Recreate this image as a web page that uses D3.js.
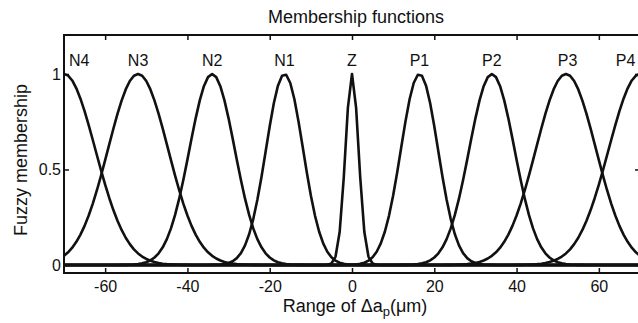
<!DOCTYPE html>
<html>
<head>
<meta charset="utf-8">
<script src="https://cdnjs.cloudflare.com/ajax/libs/d3/7.8.5/d3.min.js"></script>
<style>
	body { margin: 0; background: #fff; }
	svg { display: block; font-family: 'Liberation Sans', Arial, sans-serif; }
	.axis line { stroke: #111; stroke-width: 1.5; }
	.axis path { display: none; }
	.axis text { font-size: 16px; fill: #111; font-family: 'Liberation Sans', Arial, sans-serif; }
	.mf { fill: none; stroke: #111; stroke-width: 2.6; stroke-linejoin: round; }
</style>
</head>
<body>
<svg width="638" height="323"></svg>
<script>
// membership function names, centres and spreads (um)
var names = ['N4', 'N3', 'N2', 'N1', 'Z', 'P1', 'P2', 'P3', 'P4'];
var centers = [-70, -52, -34, -16.4, 0, 16.4, 34, 52, 70];
var spreads = [7.6, 7.3, 5.5, 4.5, 1.6, 4.5, 5.5, 7.3, 7.6];
// where each name sits along the x axis
var labelAt = [-66.3, -52, -34, -16.4, 0, 16.4, 34, 52.4, 66.5];

var xTicks = [-60, -40, -20, 0, 20, 40, 60];
var yTicks = [0, 0.5, 1];
var xDomain = [-70, 70];
var yDomain = [-0.042, 1.204];

var svg = d3.select('svg'),
	plotLeft = 64,
	plotRight = 640,
	plotTop = 35,
	plotBottom = 273;

var x = d3.scaleLinear().domain(xDomain).range([plotLeft, plotRight]);
var y = d3.scaleLinear().domain(yDomain).range([plotBottom, plotTop]);

svg.append('defs')
	.append('clipPath')
	.attr('id', 'plot')
	.append('rect')
	.attr('x', plotLeft)
	.attr('y', plotTop)
	.attr('width', plotRight - plotLeft)
	.attr('height', plotBottom - plotTop);

// sample grid of the universe of discourse
var grid = d3.range(xDomain[0], xDomain[1] + 0.5, 1);

var line = d3.line()
	.x(function (d) { return x(d[0]); })
	.y(function (d) { return y(d[1]); });

var curves = svg.append('g')
	.attr('clip-path', 'url(#plot)');

curves.selectAll('path')
	.data(centers)
	.enter().append('path')
	.classed('mf', true)
	.attr('d', function (c, i) {
		var s = spreads[i];
		return line(grid.map(function (v) {
			return [v, Math.exp(-(v - c) * (v - c) / (2 * s * s))];
		}));
	});

// zero line
svg.append('line')
	.attr('x1', plotLeft)
	.attr('x2', plotRight)
	.attr('y1', y(0))
	.attr('y2', y(0))
	.style('stroke', '#111')
	.style('stroke-width', 2);

// axes, ticks pointing inwards
svg.append('g')
	.classed('axis', true)
	.attr('transform', 'translate(0,' + plotBottom + ')')
	.call(d3.axisBottom(x).tickValues(xTicks).tickSize(-5).tickPadding(8)
		.tickFormat(function (d) { return d < 0 ? '-' + Math.abs(d) : d; }));

svg.append('g')
	.classed('axis', true)
	.attr('transform', 'translate(0,' + plotTop + ')')
	.call(d3.axisTop(x).tickValues(xTicks).tickSize(-5).tickFormat(''));

svg.append('g')
	.classed('axis', true)
	.attr('transform', 'translate(' + plotLeft + ',0)')
	.call(d3.axisLeft(y).tickValues(yTicks).tickSize(-5).tickPadding(3)
		.tickFormat(d3.format('')));

svg.append('g')
	.classed('axis', true)
	.attr('transform', 'translate(' + plotRight + ',0)')
	.call(d3.axisRight(y).tickValues(yTicks).tickSize(-5).tickFormat(''));

svg.append('rect')
	.attr('x', plotLeft)
	.attr('y', plotTop)
	.attr('width', plotRight - plotLeft)
	.attr('height', plotBottom - plotTop)
	.style('fill', 'none')
	.style('stroke', '#111')
	.style('stroke-width', 2);

// names of the fuzzy sets
svg.append('g')
	.selectAll('text')
	.data(names)
	.enter().append('text')
	.attr('x', function (d, i) { return x(labelAt[i]); })
	.attr('y', y(1) - 8)
	.attr('text-anchor', 'middle')
	.style('font-size', '16px')
	.style('fill', '#111')
	.text(function (d) { return d; });

svg.append('text')
	.attr('x', 356)
	.attr('y', 23)
	.attr('text-anchor', 'middle')
	.style('font-size', '18px')
	.style('fill', '#111')
	.text('Membership functions');

svg.append('text')
	.attr('transform', 'translate(27,160) rotate(-90)')
	.attr('text-anchor', 'middle')
	.style('font-size', '18px')
	.style('fill', '#111')
	.text('Fuzzy membership');

var xLabel = svg.append('text')
	.attr('x', 355)
	.attr('y', 312)
	.attr('text-anchor', 'middle')
	.style('font-size', '18px')
	.style('fill', '#111');

xLabel.append('tspan').text('Range of \u0394a');
xLabel.append('tspan')
	.attr('dy', 4)
	.style('font-size', '13px')
	.text('p');
xLabel.append('tspan')
	.attr('dy', -4)
	.text('(\u03bcm)');
</script>
</body>
</html>
